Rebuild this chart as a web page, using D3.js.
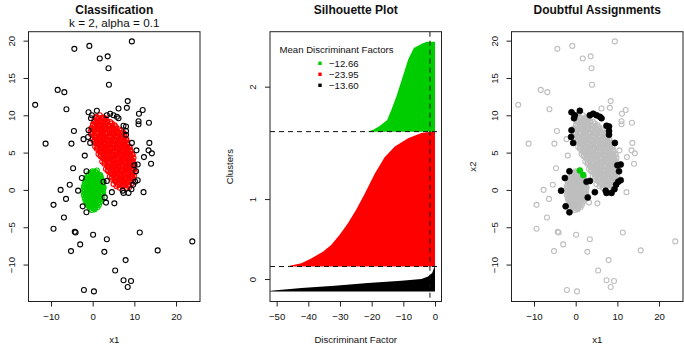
<!DOCTYPE html>
<html>
<head>
<meta charset="utf-8">
<script src="https://cdnjs.cloudflare.com/ajax/libs/d3/7.8.5/d3.min.js"></script>
<style>
body { margin: 0; background: #fff; }
svg text { font-family: "Liberation Sans", Arial, Helvetica, sans-serif; fill: #111; }
</style>
</head>
<body>
<div id="chart"></div>
<script>

///////////////////////////////////////////////////////////////////////////
//////////////////////////////// Data /////////////////////////////////////
///////////////////////////////////////////////////////////////////////////

var cluster1Points = [
	[0.9,9.8],[1.7,10.0],[2.6,9.7],
	[0.4,9.3],[1.1,9.5],[1.9,9.3],[2.7,9.5],[3.5,9.2],
	[0.1,8.8],[0.8,9.0],[1.6,8.8],[2.3,9.0],[3.0,8.9],[3.8,8.7],[4.6,8.9],
	[-0.3,8.3],[0.5,8.5],[1.2,8.3],[1.9,8.5],[2.7,8.4],[3.4,8.2],[4.1,8.5],[4.9,8.3],[5.6,8.4],
	[-0.5,7.8],[0.2,8.0],[0.9,7.8],[1.7,8.0],[2.4,7.9],[3.1,7.7],[3.8,8.0],[4.5,7.8],[5.3,8.0],[6.0,7.8],[6.8,7.9],
	[-0.4,7.5],[0.4,7.3],[1.1,7.5],[1.8,7.3],[2.5,7.4],[3.3,7.6],[4.0,7.3],[4.7,7.5],[5.5,7.3],[6.2,7.5],[7.0,7.3],[7.6,7.5],
	[0.0,6.8],[0.7,7.0],[1.4,6.8],[2.2,7.0],[2.9,6.9],[3.6,6.7],[4.3,7.0],[5.1,6.8],[5.8,7.0],[6.5,6.8],[7.3,6.9],[8.0,6.8],
	[0.3,6.5],[1.0,6.3],[1.8,6.5],[2.5,6.3],[3.2,6.4],[3.9,6.6],[4.7,6.3],[5.4,6.5],[6.1,6.3],[6.9,6.5],[7.6,6.4],[8.3,6.3],
	[0.6,5.8],[1.4,6.0],[2.1,5.8],[2.8,6.0],[3.5,5.9],[4.3,5.7],[5.0,6.0],[5.7,5.8],[6.5,6.0],[7.2,5.8],[7.9,5.9],[8.7,5.8],
	[1.0,5.5],[1.7,5.3],[2.4,5.5],[3.2,5.3],[3.9,5.4],[4.6,5.6],[5.3,5.3],[6.1,5.5],[6.8,5.3],[7.5,5.5],[8.3,5.4],[9.0,5.3],
	[1.4,4.8],[2.1,5.0],[2.9,4.8],[3.6,5.0],[4.3,4.9],[5.0,4.7],[5.8,5.0],[6.5,4.8],[7.2,5.0],[8.0,4.8],[8.7,4.9],[9.4,4.8],
	[1.9,4.5],[2.6,4.3],[3.3,4.5],[4.0,4.3],[4.8,4.4],[5.5,4.6],[6.2,4.3],[6.9,4.5],[7.7,4.3],[8.4,4.5],[9.1,4.4],[9.8,4.3],
	[2.3,3.8],[3.0,4.0],[3.8,3.8],[4.5,4.0],[5.2,3.9],[5.9,3.7],[6.7,4.0],[7.4,3.8],[8.1,4.0],[8.9,3.8],[9.6,3.9],
	[2.8,3.5],[3.5,3.3],[4.2,3.5],[5.0,3.3],[5.7,3.4],[6.4,3.6],[7.1,3.3],[7.9,3.5],[8.6,3.3],[9.3,3.5],[10.0,3.4],
	[3.2,2.8],[3.9,3.0],[4.7,2.8],[5.4,3.0],[6.1,2.9],[6.8,2.7],[7.6,3.0],[8.3,2.8],[9.0,3.0],[9.8,2.8],
	[3.7,2.5],[4.4,2.3],[5.1,2.5],[5.9,2.3],[6.6,2.4],[7.3,2.6],[8.0,2.3],[8.8,2.5],[9.5,2.3],[10.1,2.4],
	[4.1,1.8],[4.9,2.0],[5.6,1.8],[6.3,2.0],[7.0,1.9],[7.8,1.7],[8.5,2.0],[9.2,1.8],[9.9,1.9],
	[4.5,1.5],[5.3,1.3],[6.0,1.5],[6.7,1.3],[7.5,1.4],[8.2,1.6],[8.9,1.3],[9.6,1.5],
	[5.0,0.8],[5.8,1.0],[6.5,0.8],[7.2,1.0],[8.0,0.9],[8.7,0.7],[9.4,0.9],
	[5.7,0.5],[6.5,0.3],[7.3,0.5],[8.1,0.3],[8.8,0.4],
	[1.0,8.6],[2.4,8.7],[3.7,8.6],
	[1.4,7.6],[2.9,7.7],[4.3,7.6],[5.8,7.7],
	[1.1,6.6],[2.6,6.7],[4.0,6.6],[5.5,6.7],[6.9,6.6],
	[1.8,5.6],[3.3,5.7],[4.7,5.6],[6.2,5.7],[7.6,5.6],
	[2.6,4.6],[4.0,4.7],[5.5,4.6],[6.9,4.7],[8.3,4.6],
	[3.6,3.6],[5.0,3.7],[6.5,3.6],[7.9,3.7],[9.0,3.6],
	[4.4,2.6],[5.9,2.7],[7.3,2.6],[8.7,2.7],
	[5.4,1.6],[6.9,1.7],[8.3,1.6],
	[0.75,9.65],[1.5,9.6],[2.3,9.65],[3.1,9.55],
	[0.45,9.15],[1.2,9.1],[1.95,9.2],[2.65,9.15],[3.4,9.05],[4.2,9.1],
	[0.1,8.65],[1.55,8.6],[3.05,8.65],[4.5,8.6],[5.25,8.65],
	[-0.15,8.15],[0.55,8.1],[1.3,8.2],[2.05,8.15],[2.75,8.1],[3.45,8.2],[4.15,8.15],[4.9,8.1],[5.65,8.2],[6.4,8.1],
	[0.0,7.65],[0.75,7.6],[2.15,7.65],[3.65,7.6],[5.1,7.65],[6.6,7.6],[7.3,7.7],
	[0.35,7.15],[1.05,7.1],[1.8,7.2],[2.55,7.15],[3.25,7.1],[3.95,7.2],[4.7,7.15],[5.45,7.1],[6.15,7.2],[6.9,7.15],[7.65,7.1],
	[0.65,6.65],[1.85,6.6],[3.3,6.65],[4.75,6.6],[6.2,6.65],[7.6,6.6],[8.1,6.7],
	[0.95,6.15],[1.75,6.1],[2.45,6.2],[3.15,6.15],[3.9,6.1],[4.65,6.2],[5.35,6.15],[6.1,6.1],[6.85,6.2],[7.55,6.15],[8.3,6.1],
	[1.2,5.65],[2.55,5.6],[4.0,5.65],[5.45,5.6],[6.9,5.65],[8.3,5.6],[8.9,5.7],
	[1.7,5.15],[2.5,5.1],[3.25,5.2],[3.95,5.15],[4.65,5.1],[5.4,5.2],[6.15,5.15],[6.85,5.1],[7.6,5.2],[8.35,5.15],[9.05,5.1],
	[1.9,4.65],[3.3,4.6],[4.75,4.65],[6.2,4.6],[7.6,4.65],[9.0,4.6],[9.6,4.7],
	[2.65,4.15],[3.4,4.1],[4.15,4.2],[4.85,4.15],[5.55,4.1],[6.3,4.2],[7.05,4.15],[7.75,4.1],[8.5,4.2],[9.25,4.15],
	[2.9,3.65],[4.3,3.6],[5.75,3.65],[7.2,3.6],[8.45,3.65],[9.6,3.7],
	[3.55,3.15],[4.3,3.1],[5.05,3.2],[5.75,3.15],[6.45,3.1],[7.2,3.2],[7.95,3.15],[8.65,3.1],[9.4,3.2],
	[3.7,2.65],[5.15,2.6],[6.6,2.65],[8.0,2.6],[9.4,2.65],[9.9,2.7],
	[4.5,2.15],[5.25,2.1],[5.95,2.2],[6.65,2.15],[7.4,2.1],[8.15,2.2],[8.85,2.15],[9.55,2.1],
	[4.7,1.65],[6.15,1.6],[7.6,1.65],[9.0,1.6],[9.5,1.7],
	[5.4,1.15],[6.15,1.1],[6.85,1.2],[7.6,1.15],[8.35,1.1],[9.05,1.15],
	[6.1,0.65],[6.9,0.6],[7.7,0.65],[8.45,0.6]
];

//Cluster 2 (green) observations
var cluster2Points = [
	[0.0,2.5],[0.7,2.4],
	[-0.9,2.1],[-0.2,2.2],[0.5,2.0],[1.2,2.1],
	[-1.4,1.7],[-0.7,1.6],[0.0,1.8],[0.7,1.7],[1.4,1.6],[1.9,1.8],
	[-1.7,1.3],[-1.0,1.2],[-0.3,1.4],[0.4,1.3],[1.1,1.2],[1.8,1.4],[2.3,1.3],
	[-1.9,0.9],[-1.2,1.0],[-0.5,0.8],[0.2,0.9],[0.9,1.0],[1.6,0.8],[2.3,0.9],
	[-2.1,0.5],[-1.4,0.4],[-0.7,0.6],[0.0,0.5],[0.7,0.4],[1.4,0.6],[2.1,0.5],[2.6,0.4],
	[-2.2,0.1],[-1.5,0.2],[-0.8,0.0],[-0.1,0.1],[0.6,0.2],[1.3,0.0],[2.0,0.1],[2.6,0.2],
	[-2.2,-0.3],[-1.5,-0.4],[-0.8,-0.2],[-0.1,-0.3],[0.6,-0.4],[1.3,-0.2],[2.0,-0.3],[2.5,-0.4],
	[-2.1,-0.7],[-1.4,-0.6],[-0.7,-0.8],[0.0,-0.7],[0.7,-0.6],[1.4,-0.8],[2.1,-0.7],
	[-1.9,-1.1],[-1.2,-1.2],[-0.5,-1.0],[0.2,-1.1],[0.9,-1.2],[1.6,-1.0],[2.2,-1.1],
	[-1.7,-1.5],[-1.0,-1.4],[-0.3,-1.6],[0.4,-1.5],[1.1,-1.4],[1.8,-1.6],
	[-1.3,-1.9],[-0.6,-2.0],[0.1,-1.8],[0.8,-1.9],[1.5,-2.0],
	[-0.8,-2.3],[-0.1,-2.2],[0.6,-2.4],[1.2,-2.3],
	[-0.2,-2.7],[0.5,-2.6],
	[-1.1,1.5],[0.4,1.5],[-1.4,0.7],[0.1,0.7],[1.5,0.7],[-1.2,-0.1],[0.3,-0.1],[1.6,-0.1],
	[-1.1,-0.9],[0.4,-0.9],[1.8,-0.9],[-0.7,-1.7],[0.8,-1.7],
	[-0.55,2.3],[0.15,2.35],[0.85,2.3],
	[-1.05,1.9],[-0.35,1.95],[0.35,1.9],[1.05,1.95],[1.65,1.9],
	[-1.45,1.5],[-0.65,1.55],[0.05,1.5],[0.75,1.55],[1.45,1.5],[2.0,1.55],
	[-1.55,1.1],[-0.85,1.15],[-0.15,1.1],[0.55,1.15],[1.25,1.1],[1.95,1.15],
	[-1.75,0.7],[-0.35,0.75],[0.35,0.7],[1.05,0.75],[1.75,0.7],[2.35,0.7],
	[-1.85,0.3],[-1.15,0.35],[-0.45,0.3],[0.25,0.35],[0.95,0.3],[1.65,0.35],[2.3,0.3],
	[-1.85,-0.1],[-0.45,-0.05],[0.95,-0.1],[2.25,-0.05],
	[-1.8,-0.5],[-1.05,-0.45],[-0.35,-0.5],[0.35,-0.45],[1.05,-0.5],[1.75,-0.45],[2.3,-0.5],
	[-1.6,-0.9],[-0.35,-0.85],[1.1,-0.9],
	[-1.45,-1.3],[-0.65,-1.25],[0.05,-1.3],[0.75,-1.25],[1.45,-1.3],[1.95,-1.25],
	[-1.3,-1.7],[0.05,-1.65],[1.4,-1.7],
	[-1.05,-2.1],[-0.45,-2.05],[0.25,-2.1],[0.9,-2.05],
	[-0.5,-2.5],[0.15,-2.45]
];

//Cluster 2 observations with a doubtful assignment
var cluster2Doubtful = [[1.0,2.6],[1.8,2.0]];

//Trimmed observations (cluster 0) that are clearly outlying
var trimmedPoints = [
	[-4.4,18.9],[-0.8,19.3],[9.4,19.9],[1.7,17.6],[3.6,17.9],[3.8,16.3],[3.9,14.1],
	[-8.4,13.4],[-6.8,13.1],[-13.8,11.4],[-6.3,10.8],[8.4,11.9],[8.2,11.0],[12.0,10.7],
	[11.1,10.2],[13.5,9.0],[11.0,9.2],[11.0,8.8],[6.2,10.9],[-4.5,7.9],[-2.2,6.8],
	[-11.3,6.2],[-5.1,6.2],[13.6,6.3],[10.5,5.3],[13.4,5.3],[14.2,4.9],[12.3,4.4],
	[-1.9,4.6],[14.0,3.5],[-4.7,2.9],[-5.5,0.7],[-7.7,0.0],[12.2,-0.3],[-6.4,-1.2],
	[3.2,-1.7],[5.2,-1.8],[-9.4,-2.0],[-6.9,-3.7],[-9.4,-5.2],[-4.3,-5.6],[-4.1,-5.7],
	[0.1,-6.0],[3.4,-6.6],[11.3,-5.7],[23.9,-6.9],[-3.0,-7.3],[-5.2,-8.2],[2.8,-8.3],
	[15.6,-8.1],[7.9,-9.4],[5.4,-10.8],[7.4,-12.1],[9.2,-12.2],[8.4,-13.0],[-2.1,-13.4],
	[0.3,-13.6]
];

//Trimmed observations close to a cluster: doubtful assignments
var trimmedDoubtful = [
	[-1.0,10.4],[-0.2,10.0],[-0.4,9.6],[1.0,10.6],[3.4,10.0],[4.2,10.2],[5.0,10.0],
	[5.8,9.8],[6.2,9.6],[7.4,8.6],[8.0,8.5],[8.0,7.9],[8.0,7.4],[9.4,6.3],[-1.0,8.0],
	[-1.1,7.1],[-0.6,6.3],[10.0,3.3],[10.8,3.4],[10.4,2.5],[10.8,1.3],[10.2,1.1],
	[9.7,0.7],[9.3,0.1],[8.6,-0.4],[7.2,-0.1],[7.4,-0.4],[-1.5,2.5],[-2.6,1.6],
	[-3.5,-0.1],[-2.4,-2.2],[-1.5,-3.0],[2.6,1.1],[3.4,1.2],[2.9,-1.0],[4.6,-0.3]
];

//Silhouette: sorted discriminant factors, [fraction of cluster, value]
var clusterSizes = [100, 540, 360];
var dfCluster0 = [[0,-53],[0.04,-51],[0.136,-42.2],[0.23,-31.7],[0.34,-21.2],[0.43,-10.6],
	[0.5,-4.3],[0.6,-2.2],[0.74,-0.9],[0.94,-0.3],[1,-0.1]];
var dfCluster1 = [[0,-46.2],[0.005,-45.9],[0.025,-42.2],[0.06,-39.1],[0.11,-35.4],[0.16,-32.8],
	[0.235,-30.1],[0.32,-27.5],[0.42,-24.9],[0.54,-22.2],[0.69,-19.0],[0.81,-15.9],
	[0.89,-12.7],[0.95,-8.5],[0.99,-4.3],[1,-1.2]];
var dfCluster2 = [[0,-21.4],[0.02,-19.5],[0.06,-17.6],[0.13,-15.1],[0.24,-13.8],[0.39,-12.2],
	[0.61,-10.2],[0.8,-8.5],[0.93,-6.7],[0.98,-4.0],[1,-2.5]];
var meanDF = [-13.60, -23.95, -12.66];
var dfThreshold = -1.6;

var clusterLabels = ["0", "1", "2"];
var scatterXTicks = [-10, 0, 10, 20];
var scatterYTicks = [-10, -5, 0, 5, 10, 15, 20];
var dfXTicks = [-50, -40, -30, -20, -10, 0];

///////////////////////////////////////////////////////////////////////////
//////////////////////////// Set up the svg ///////////////////////////////
///////////////////////////////////////////////////////////////////////////

var width = 684,
	height = 345;

var plotTop = 31.7,
	plotBottom = 301.5,
	plotWidth = 171.5;

var clusterColors = ["#000000", "#FF0000", "#00CD00"];
var greyColor = "#BEBEBE";

var svg = d3.select("#chart")
	.append("svg")
	.attr("width", width)
	.attr("height", height);

//Adds the box, the axes and the titles of one panel
function drawFrame(left, x, y, opts) {
	var g = svg.append("g");

	//x axis
	var xAxis = g.append("g")
		.attr("transform", "translate(0," + plotBottom + ")")
		.call(d3.axisBottom(x).tickValues(opts.xTicks).tickSize(5).tickPadding(7).tickFormat(d3.format("d")));
	xAxis.select(".domain").remove();
	xAxis.selectAll("text").style("font-size", "9.6px");

	//y axis with labels turned upright
	var yAxis = g.append("g")
		.attr("transform", "translate(" + left + ",0)")
		.call(d3.axisLeft(y).tickValues(opts.yTicks).tickSize(5).tickFormat(opts.yFormat));
	yAxis.select(".domain").remove();
	yAxis.selectAll("text")
		.attr("x", null)
		.attr("dy", "0.35em")
		.attr("text-anchor", "middle")
		.attr("transform", "translate(-17,0) rotate(-90)")
		.style("font-size", "9.6px");

	g.selectAll(".tick line").attr("stroke", "#222");

	//Box round the plot
	g.append("rect")
		.attr("x", left)
		.attr("y", plotTop)
		.attr("width", plotWidth)
		.attr("height", plotBottom - plotTop)
		.attr("fill", "none")
		.attr("stroke", "#222")
		.attr("stroke-width", 1);

	var cx = left + plotWidth / 2;

	//Titles
	g.append("text")
		.attr("x", cx).attr("y", 14.2)
		.attr("text-anchor", "middle")
		.style("font-size", "12px")
		.style("font-weight", "bold")
		.text(opts.title);
	if (opts.subtitle) {
		g.append("text")
			.attr("x", cx).attr("y", 27.3)
			.attr("text-anchor", "middle")
			.style("font-size", "11.7px")
			.text(opts.subtitle);
	}//if

	//Axis titles
	g.append("text")
		.attr("x", cx).attr("y", 343.4)
		.attr("text-anchor", "middle")
		.style("font-size", "9.6px")
		.text(opts.xLabel);
	if (opts.yLabel) {
		g.append("text")
			.attr("transform", "translate(" + (left - opts.yLabelOffset) + "," + ((plotTop + plotBottom) / 2) + ") rotate(-90)")
			.attr("dy", "0.35em")
			.attr("text-anchor", "middle")
			.style("font-size", "9.6px")
			.text(opts.yLabel);
	}//if

	return g;
}//drawFrame

//Open (pch 1) or filled (pch 19) circles
function drawPoints(g, data, x, y, color, filled) {
	g.selectAll(null)
		.data(data)
		.enter().append("circle")
		.attr("cx", function(d) { return x(d[0]); })
		.attr("cy", function(d) { return y(d[1]); })
		.attr("r", filled ? 3 : 2.5)
		.attr("fill", filled ? color : "none")
		.attr("stroke", color)
		.attr("stroke-width", filled ? 0.6 : 1.1);
}//drawPoints

///////////////////////////////////////////////////////////////////////////
////////////////////////// Panel 1: Classification ////////////////////////
///////////////////////////////////////////////////////////////////////////

var left1 = 28.5;
var x1 = d3.scaleLinear().domain([-15.4, 25.75]).range([left1, left1 + plotWidth]);
var y1 = d3.scaleLinear().domain([-14.95, 21.2]).range([plotBottom, plotTop]);

var panel1 = drawFrame(left1, x1, y1, {
	xTicks: scatterXTicks, yTicks: scatterYTicks, yFormat: d3.format("d"),
	title: "Classification", subtitle: "k = 2, alpha = 0.1", xLabel: "x1"
});

drawPoints(panel1, cluster1Points, x1, y1, clusterColors[1], false);
drawPoints(panel1, cluster2Points.concat(cluster2Doubtful), x1, y1, clusterColors[2], false);
drawPoints(panel1, trimmedPoints.concat(trimmedDoubtful), x1, y1, clusterColors[0], false);

///////////////////////////////////////////////////////////////////////////
////////////////////////// Panel 2: Silhouette plot ///////////////////////
///////////////////////////////////////////////////////////////////////////

var left2 = 270;
var nTotal = d3.sum(clusterSizes);
var starts = [0, clusterSizes[0], clusterSizes[0] + clusterSizes[1]];
var x2 = d3.scaleLinear().domain([-52.1, 2.05]).range([left2, left2 + plotWidth]);
var y2 = d3.scaleLinear().domain([-0.04 * nTotal, 1.04 * nTotal]).range([plotBottom, plotTop]);

var midPoints = clusterSizes.map(function(n, i) { return starts[i] + n / 2; });

//Clip for the areas running past the left edge
svg.append("defs").append("clipPath")
	.attr("id", "dfClip")
	.append("rect")
	.attr("x", left2).attr("y", plotTop)
	.attr("width", plotWidth).attr("height", plotBottom - plotTop);

var areaWrapper = svg.append("g").attr("clip-path", "url(#dfClip)");

[dfCluster0, dfCluster1, dfCluster2].forEach(function(df, i) {
	var area = d3.area()
		.y(function(d) { return y2(starts[i] + d[0] * clusterSizes[i]); })
		.x0(function(d) { return x2(d[1]); })
		.x1(x2(0));
	areaWrapper.append("path")
		.datum(df)
		.attr("d", area)
		.attr("fill", clusterColors[i]);
});

//Dashed separators between clusters and the threshold line
areaWrapper.selectAll(".sep")
	.data([starts[1], starts[2]])
	.enter().append("line")
	.attr("x1", left2).attr("x2", left2 + plotWidth)
	.attr("y1", function(d) { return y2(d); })
	.attr("y2", function(d) { return y2(d); })
	.attr("stroke", "#111")
	.attr("stroke-dasharray", "5,4");

areaWrapper.append("line")
	.attr("x1", x2(dfThreshold)).attr("x2", x2(dfThreshold))
	.attr("y1", plotTop).attr("y2", plotBottom)
	.attr("stroke", "#111")
	.attr("stroke-dasharray", "5,4");

drawFrame(left2, x2, y2, {
	xTicks: dfXTicks, yTicks: midPoints,
	yFormat: function(d, i) { return clusterLabels[i]; },
	title: "Silhouette Plot", xLabel: "Discriminant Factor",
	yLabel: "Clusters", yLabelOffset: 40
});

//Legend
var legend = svg.append("g");
legend.append("text")
	.attr("x", 279.5).attr("y", 53.4)
	.style("font-size", "9.6px")
	.text("Mean Discriminant Factors");

var legendOrder = [2, 1, 0];
legendOrder.forEach(function(k, i) {
	var ly = 63.3 + i * 11;
	legend.append("rect")
		.attr("x", 318.3).attr("y", ly - 1.7)
		.attr("width", 3.4).attr("height", 3.4)
		.attr("fill", clusterColors[k]);
	legend.append("text")
		.attr("x", 329).attr("y", ly)
		.attr("dy", "0.35em")
		.style("font-size", "9.6px")
		.text(d3.format(".2f")(meanDF[k]));
});

///////////////////////////////////////////////////////////////////////////
/////////////////////// Panel 3: Doubtful assignments /////////////////////
///////////////////////////////////////////////////////////////////////////

var left3 = 511.5;
var x3 = d3.scaleLinear().domain([-15.4, 25.75]).range([left3, left3 + plotWidth]);
var y3 = d3.scaleLinear().domain([-14.95, 21.2]).range([plotBottom, plotTop]);

var panel3 = drawFrame(left3, x3, y3, {
	xTicks: scatterXTicks, yTicks: scatterYTicks, yFormat: d3.format("d"),
	title: "Doubtful Assignments", xLabel: "x1", yLabel: "x2", yLabelOffset: 38.5
});

var allPoints = cluster1Points.concat(cluster2Points, cluster2Doubtful, trimmedPoints, trimmedDoubtful);
drawPoints(panel3, allPoints, x3, y3, greyColor, false);
drawPoints(panel3, trimmedDoubtful, x3, y3, clusterColors[0], true);
drawPoints(panel3, cluster2Doubtful, x3, y3, clusterColors[2], true);

</script>
</body>
</html>
